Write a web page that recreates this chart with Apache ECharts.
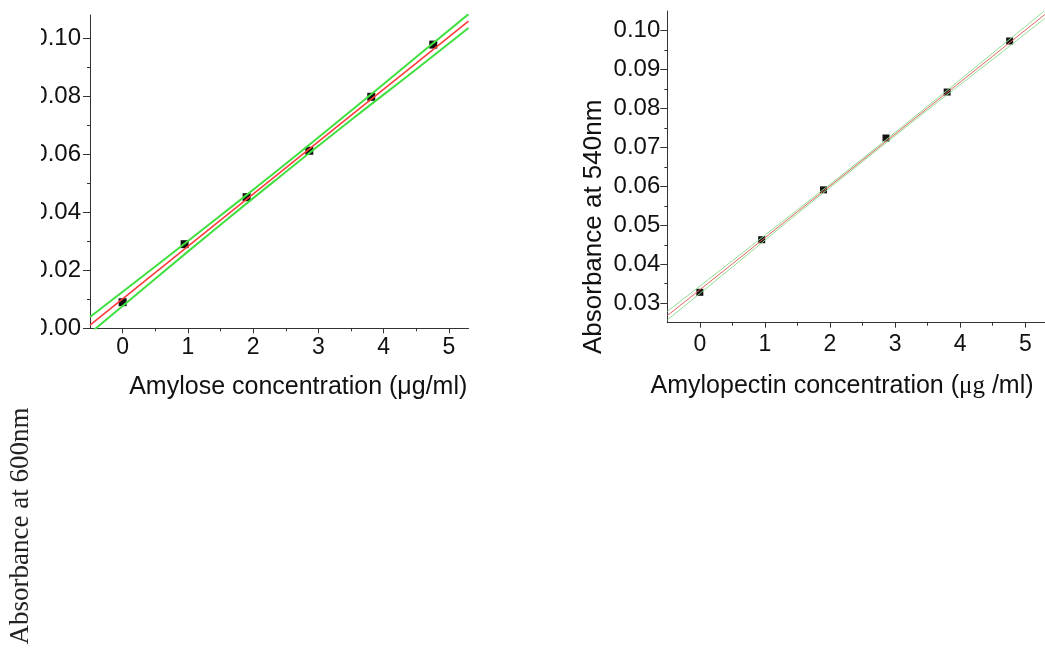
<!DOCTYPE html>
<html>
<head>
<meta charset="utf-8">
<script src="https://cdn.jsdelivr.net/npm/echarts@6/dist/echarts.min.js"></script>
<style>
html,body{margin:0;padding:0;background:#fff;}
#chart{width:1045px;height:658px;}
</style>
</head>
<body>
<div id="chart"></div>
<script>
// ---- data ----
const xTickValues = [0, 1, 2, 3, 4, 5];
const xMinorValues = [0.5, 1.5, 2.5, 3.5, 4.5];

const amyloseYTicks = [0, 0.02, 0.04, 0.06, 0.08, 0.10];
const amyloseYMinor = [0.01, 0.03, 0.05, 0.07, 0.09];
const amylopectinYTicks = [0.03, 0.04, 0.05, 0.06, 0.07, 0.08, 0.09, 0.10];
const amylopectinYMinor = [0.035, 0.045, 0.055, 0.065, 0.075, 0.085, 0.095];

const amyloseX = [0, 0.95, 1.9, 2.86, 3.81, 4.76];
const amyloseY = [0.009, 0.029, 0.0452, 0.0612, 0.0798, 0.0978];
const lineX = [-0.5, 0.5, 1.5, 2.4, 3.5, 4.5, 5.3];
const amyloseFit = [0.0011, 0.0192, 0.0373, 0.0535, 0.0734, 0.0914, 0.1059];
const amyloseUpper = [0.0039, 0.0213, 0.0389, 0.0549, 0.0750, 0.0935, 0.1083];
const amyloseLower = [-0.0017, 0.0171, 0.0357, 0.0521, 0.0718, 0.0893, 0.1035];

const amylopectinX = [0, 0.95, 1.9, 2.86, 3.8, 4.76];
const amylopectinY = [0.0328, 0.0463, 0.0591, 0.0724, 0.0842, 0.0973];
const amylopectinFit = [0.0268, 0.0401, 0.0535, 0.0654, 0.0801, 0.0934, 0.1041];
const amylopectinUpper = [0.0279, 0.0409, 0.0540, 0.0658, 0.0806, 0.0942, 0.1051];
const amylopectinLower = [0.0257, 0.0393, 0.0530, 0.0650, 0.0796, 0.0926, 0.1031];

// ---- helpers ----
const pairs = (xs, ys) => xs.map((x, i) => [x, ys[i]]);
const SANS = 'Arial, "Liberation Sans", Helvetica, sans-serif';
const SERIF = '"Times New Roman", "Liberation Serif", serif';
const AX = '#333';

function majorX(grid, min, max, name, nameGap, pad, margin) {
  return {
    type: 'value', gridIndex: grid, position: 'bottom', min: min, max: max,
    axisLine: {show: true, onZero: false, lineStyle: {color: AX, width: 1}},
    axisTick: {show: true, length: 5, lineStyle: {color: AX}, customValues: xTickValues},
    axisLabel: {show: true, margin: margin, fontSize: 23, fontFamily: SANS, color: '#111',
      customValues: xTickValues, formatter: v => String(v)},
    splitLine: {show: false},
    name: name, nameLocation: 'middle', nameGap: nameGap,
    nameTextStyle: {fontSize: 25, fontFamily: SANS, color: '#111', padding: pad,
      rich: {s: {fontSize: 25, fontFamily: SERIF, color: '#111'}}}
  };
}
function minorX(grid, min, max) {
  return {
    type: 'value', gridIndex: grid, position: 'bottom', min: min, max: max,
    axisLine: {show: false, onZero: false},
    axisTick: {show: true, length: 3, lineStyle: {color: AX}, customValues: xMinorValues},
    axisLabel: {show: false}, splitLine: {show: false}
  };
}
function majorY(grid, min, max, ticks, margin, name, nameGap, pad) {
  const o = {
    type: 'value', gridIndex: grid, position: 'left', min: min, max: max,
    axisLine: {show: true, onZero: false, lineStyle: {color: AX, width: 1}},
    axisTick: {show: true, length: 7, lineStyle: {color: AX}, customValues: ticks},
    axisLabel: {show: true, margin: margin, fontSize: 24, fontFamily: SANS, color: '#111',
      customValues: ticks, formatter: v => v.toFixed(2)},
    splitLine: {show: false}
  };
  if (name) {
    o.name = name; o.nameLocation = 'middle'; o.nameGap = nameGap; o.nameRotate = 90;
    o.nameTextStyle = {fontSize: 26, fontFamily: SANS, color: '#111', padding: pad};
  }
  return o;
}
function minorY(grid, min, max, ticks) {
  return {
    type: 'value', gridIndex: grid, position: 'left', min: min, max: max,
    axisLine: {show: false, onZero: false},
    axisTick: {show: true, length: 3, lineStyle: {color: AX}, customValues: ticks},
    axisLabel: {show: false}, splitLine: {show: false}
  };
}
function pointSeries(xi, yi, data, size) {
  return {type: 'scatter', xAxisIndex: xi, yAxisIndex: yi, data: data, symbol: 'rect',
    symbolSize: size, itemStyle: {color: '#111', opacity: 1}, z: 2, silent: true};
}
function lineSeries(xi, yi, data, color, width, smooth) {
  return {type: 'line', xAxisIndex: xi, yAxisIndex: yi, data: data, symbol: 'none',
    smooth: smooth, clip: true, lineStyle: {color: color, width: width}, z: 3, silent: true};
}

const chart = echarts.init(document.getElementById('chart'), null, {renderer: 'canvas'});
chart.setOption({
  backgroundColor: '#fff',
  animation: false,
  grid: [
    {left: 90, top: 15, width: 378.5, height: 313.3, containLabel: false},
    {left: 667.3, top: 11, width: 377.5, height: 311.7, containLabel: false}
  ],
  xAxis: [
    majorX(0, -0.5, 5.3, 'Amylose concentration (μg/ml)', 46, [0, 0, 0, 38], 8),
    minorX(0, -0.5, 5.3),
    majorX(1, -0.5, 5.3, 'Amylopectin concentration ({s|μg} /ml)', 51, [0, 28, 0, 0], 10),
    minorX(1, -0.5, 5.3)
  ],
  yAxis: [
    majorY(0, 0, 0.108, amyloseYTicks, 9),
    minorY(0, 0, 0.108, amyloseYMinor),
    majorY(1, 0.025, 0.105, amylopectinYTicks, 7, 'Absorbance at 540nm', 60, [0, 120, 0, 0]),
    minorY(1, 0.025, 0.105, amylopectinYMinor)
  ],
  series: [
    pointSeries(0, 0, pairs(amyloseX, amyloseY), 8),
    lineSeries(0, 0, pairs(lineX, amyloseFit), '#ff3b3b', 1.6, false),
    lineSeries(0, 0, pairs(lineX, amyloseUpper), '#3fe03f', 2, true),
    lineSeries(0, 0, pairs(lineX, amyloseLower), '#3fe03f', 2, true),
    pointSeries(2, 2, pairs(amylopectinX, amylopectinY), 7),
    lineSeries(2, 2, pairs(lineX, amylopectinFit), '#e06262', 1, false),
    lineSeries(2, 2, pairs(lineX, amylopectinUpper), '#8fdc8f', 1, true),
    lineSeries(2, 2, pairs(lineX, amylopectinLower), '#8fdc8f', 1, true)
  ],
  graphic: [
    {type: 'rect', left: 0, top: 0, shape: {width: 41, height: 345}, style: {fill: '#fff'}, z: 100, silent: true},
    {type: 'text', x: 21, y: 526, rotation: Math.PI / 2, z: 100, silent: true,
      style: {text: 'Absorbance at 600nm', font: '27px ' + SERIF, fill: '#222',
        align: 'center', verticalAlign: 'middle'}}
  ]
});
</script>
</body>
</html>
